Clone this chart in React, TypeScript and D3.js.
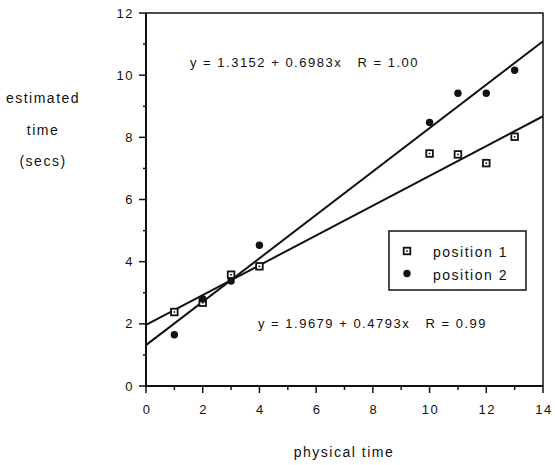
import React, { useEffect, useRef } from 'react';
import * as d3 from 'd3';

// physical time (x) of each trial
const xValues = [1, 2, 3, 4, 10, 11, 12, 13];
// estimated time, position 1 (open squares)
const position1 = [2.38, 2.68, 3.58, 3.85, 7.48, 7.45, 7.17, 8.02];
// estimated time, position 2 (filled dots)
const position2 = [1.65, 2.8, 3.38, 4.53, 8.48, 9.42, 9.42, 10.16];

// regression fits as printed on the chart
const fitIntercepts = [1.9679, 1.3152];
const fitSlopes = [0.4793, 0.6983];
const fitLabels = ['y = 1.9679 + 0.4793x   R = 0.99', 'y = 1.3152 + 0.6983x   R = 1.00'];

const xTicks = [0, 2, 4, 6, 8, 10, 12, 14];
const yTicks = [0, 2, 4, 6, 8, 10, 12];
const legendLabels = ['position 1', 'position 2'];
const yTitleLines = ['estimated', 'time', '(secs)'];
const xTitle = 'physical time';

const FONT = '"Liberation Sans", Arial, Helvetica, sans-serif';

export default function App() {
  const svgRef = useRef<SVGSVGElement | null>(null);

  useEffect(() => {
    if (!svgRef.current) return;
    const width = 555;
    const height = 465;

    const svg = d3.select(svgRef.current).attr('width', width).attr('height', height);
    svg.selectAll('*').remove();

    const x = d3.scaleLinear().domain([0, 14]).range([146, 543]);
    const y = d3.scaleLinear().domain([0, 12]).range([386, 13]);

    svg.append('rect').attr('width', width).attr('height', height).attr('fill', '#fff');

    const text = (sel: any) =>
      sel.attr('font-family', FONT).attr('fill', '#111')
        .style('letter-spacing', '1.5px').style('white-space', 'pre');

    // frame: top and right edges (thin)
    svg.append('path')
      .attr('d', `M${x(0)},${y(12)}H${x(14)}V${y(0)}`)
      .attr('fill', 'none')
      .attr('stroke', '#111')
      .attr('stroke-width', 1.5);

    // left + bottom axes
    svg.append('path')
      .attr('d', `M${x(0)},${y(12)}V${y(0)}H${x(14)}`)
      .attr('fill', 'none')
      .attr('stroke', '#111')
      .attr('stroke-width', 2);

    // y ticks, major at even, minor at odd
    const yMinor = d3.range(1, 12, 2);
    svg.append('g').selectAll('line').data(yTicks).enter().append('line')
      .attr('x1', x(0) - 7).attr('x2', x(0))
      .attr('y1', d => y(d)).attr('y2', d => y(d))
      .attr('stroke', '#111').attr('stroke-width', 1.5);
    svg.append('g').selectAll('line').data(yMinor).enter().append('line')
      .attr('x1', x(0) - 3).attr('x2', x(0))
      .attr('y1', d => y(d)).attr('y2', d => y(d))
      .attr('stroke', '#111').attr('stroke-width', 1.5);
    svg.append('g').selectAll('text').data(yTicks).enter().append('text')
      .call(text)
      .attr('x', x(0) - 12).attr('y', d => y(d) + 4.5)
      .attr('text-anchor', 'end').attr('font-size', 13)
      .text(d => d);

    // x ticks
    const xMinor = d3.range(1, 14, 2);
    svg.append('g').selectAll('line').data(xTicks).enter().append('line')
      .attr('x1', d => x(d)).attr('x2', d => x(d))
      .attr('y1', y(0)).attr('y2', y(0) + 7)
      .attr('stroke', '#111').attr('stroke-width', 1.5);
    svg.append('g').selectAll('line').data(xMinor).enter().append('line')
      .attr('x1', d => x(d)).attr('x2', d => x(d))
      .attr('y1', y(0)).attr('y2', y(0) + 4)
      .attr('stroke', '#111').attr('stroke-width', 1.5);
    svg.append('g').selectAll('text').data(xTicks).enter().append('text')
      .call(text)
      .attr('x', d => x(d) + 1).attr('y', y(0) + 28)
      .attr('text-anchor', 'middle').attr('font-size', 13)
      .text(d => d);

    // axis titles
    svg.append('text').call(text)
      .attr('x', 344).attr('y', 457)
      .attr('text-anchor', 'middle').attr('font-size', 14)
      .text(xTitle);
    const yTitleBase = [103, 135, 166];
    svg.append('g').selectAll('text').data(yTitleLines).enter().append('text')
      .call(text)
      .attr('x', 43).attr('y', (d, i) => yTitleBase[i])
      .attr('text-anchor', 'middle').attr('font-size', 14)
      .text(d => d);

    // regression lines
    const line = d3.line<number>().x(d => x(d[0])).y(d => y(d[1]));
    fitIntercepts.forEach((b, i) => {
      const m = fitSlopes[i];
      svg.append('path')
        .datum([[0, b], [14, b + m * 14]] as any)
        .attr('d', line as any)
        .attr('fill', 'none')
        .attr('stroke', '#111')
        .attr('stroke-width', 2);
    });

    // fit labels
    const labelPos = [[258, 328], [190, 67]];
    fitLabels.forEach((t, i) => {
      svg.append('text').call(text)
        .attr('x', labelPos[i][0]).attr('y', labelPos[i][1])
        .attr('font-size', 13)
        .text(t);
    });

    const drawSquare = (g: any, cx: number, cy: number) => {
      g.append('rect')
        .attr('x', cx - 3.3).attr('y', cy - 3.3)
        .attr('width', 6.6).attr('height', 6.6)
        .attr('fill', '#fff').attr('stroke', '#111').attr('stroke-width', 1.8);
      g.append('rect')
        .attr('x', cx - 0.8).attr('y', cy - 0.8)
        .attr('width', 1.6).attr('height', 1.6)
        .attr('fill', '#111');
    };
    const drawDot = (g: any, cx: number, cy: number) => {
      g.append('circle').attr('cx', cx).attr('cy', cy).attr('r', 3.7).attr('fill', '#111');
    };

    const pts = svg.append('g');
    xValues.forEach((xv, i) => drawSquare(pts, x(xv), y(position1[i])));
    xValues.forEach((xv, i) => drawDot(pts, x(xv), y(position2[i])));

    // legend
    const legend = svg.append('g');
    legend.append('rect')
      .attr('x', 389).attr('y', 231).attr('width', 137).attr('height', 59)
      .attr('fill', '#fff').attr('stroke', '#111').attr('stroke-width', 1.5);
    legendLabels.forEach((lab, i) => {
      const cy = 251 + i * 22.5;
      if (i === 0) drawSquare(legend, 407, cy);
      else drawDot(legend, 407, cy);
      legend.append('text').call(text)
        .attr('x', 433).attr('y', cy + 6)
        .attr('font-size', 14)
        .text(lab);
    });
  }, []);

  return (
    <svg
      ref={svgRef}
      style={{ position: 'fixed', left: 0, top: 0, display: 'block' }}
    />
  );
}
